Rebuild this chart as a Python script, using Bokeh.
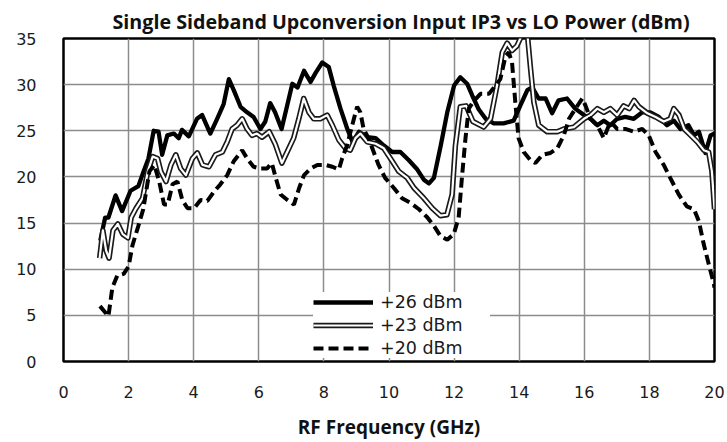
from bokeh.plotting import figure
from bokeh.models import Legend, LegendItem, ColumnDataSource
from bokeh.embed import file_html
from bokeh.resources import INLINE

# ---- data ----
freq_26 = [1.13, 1.28, 1.38, 1.6, 1.8, 2.06, 2.3, 2.46, 2.61, 2.77, 2.92, 3.03, 3.19, 3.39, 3.54, 3.64,
           3.85, 4.1, 4.26, 4.51, 4.72, 4.92, 5.08, 5.23, 5.44, 5.64, 5.84, 6.05, 6.2, 6.35, 6.5, 6.7,
           6.87, 7.03, 7.19, 7.39, 7.59, 7.75, 7.95, 8.15, 8.3, 8.51, 8.72, 8.88, 9.08, 9.33, 9.59, 9.84,
           10.1, 10.35, 10.61, 10.87, 11.07, 11.23, 11.38, 11.59, 11.79, 12.0, 12.19, 12.4, 12.56, 12.76,
           12.97, 13.22, 13.52, 13.83, 14.03, 14.25, 14.4, 14.6, 14.81, 15.01, 15.21, 15.47, 15.72, 15.99,
           16.19, 16.4, 16.6, 16.8, 17.01, 17.26, 17.52, 17.78, 18.03, 18.29, 18.54, 18.75, 18.95, 19.2,
           19.37, 19.52, 19.72, 19.88, 20.0]
ip3_26 = [13.1, 15.6, 15.6, 18.0, 16.3, 18.5, 19.0, 20.6, 22.0, 25.0, 24.9, 22.4, 24.5, 24.7, 24.2, 25.1,
          24.4, 26.3, 26.7, 24.7, 26.3, 27.9, 30.6, 29.4, 27.6, 27.0, 26.5, 25.2, 26.0, 28.0, 27.0, 25.2,
          27.7, 30.1, 29.7, 31.5, 30.3, 31.3, 32.4, 31.9, 29.9, 27.4, 25.2, 23.8, 24.9, 24.3, 24.2, 23.4,
          22.7, 22.7, 21.8, 20.8, 19.7, 19.3, 19.9, 23.4, 27.0, 29.9, 30.8, 30.1, 28.8, 27.3,
          26.3, 25.8, 25.8, 26.1, 27.7, 29.4, 29.7, 28.5, 28.5, 26.9, 28.3, 28.5, 27.4, 26.7,
          26.3, 25.6, 26.1, 25.6, 26.3, 26.5, 26.3, 27.0, 27.0, 26.5, 25.6, 26.1, 25.2, 25.6,
          24.5, 24.9, 22.6, 24.5, 24.7]

freq_23 = [1.11, 1.21, 1.31, 1.4, 1.52, 1.67, 1.82, 1.98, 2.08, 2.23, 2.43, 2.59, 2.74, 2.89, 2.99, 3.15,
           3.3, 3.45, 3.6, 3.76, 3.96, 4.11, 4.27, 4.47, 4.67, 4.88, 5.03, 5.18, 5.33, 5.49, 5.64, 5.79,
           5.94, 6.1, 6.32, 6.5, 6.71, 6.87, 7.07, 7.23, 7.38, 7.54, 7.69, 7.89, 8.1, 8.26, 8.46, 8.66,
           8.81, 8.97, 9.12, 9.33, 9.59, 9.84, 10.1, 10.3, 10.56, 10.77, 11.07, 11.33, 11.58, 11.78,
           11.94, 12.04, 12.19, 12.37, 12.58, 12.91, 13.12, 13.32, 13.48, 13.63, 13.78, 13.93, 14.1,
           14.25, 14.35, 14.45, 14.6, 14.86, 15.17, 15.37, 15.68, 15.99, 16.19, 16.4, 16.6, 16.8, 17.01,
           17.21, 17.38, 17.53, 17.68, 17.94, 18.19, 18.44, 18.64, 18.75, 18.91, 19.07, 19.27, 19.47,
           19.67, 19.82, 19.92, 20.0]
ip3_23 = [11.2, 14.2, 12.0, 11.2, 14.2, 14.9, 13.8, 13.4, 15.6, 16.6, 17.7, 20.6, 22.2, 22.0, 20.6, 19.5,
          21.3, 22.4, 20.9, 20.2, 22.0, 22.6, 21.3, 21.1, 22.4, 22.7, 23.8, 25.2, 25.6, 26.3, 25.2, 24.5,
          24.7, 24.3, 24.9, 23.6, 21.5, 22.7, 24.2, 26.3, 28.5, 27.0, 26.3, 26.3, 26.7, 25.6, 24.0, 23.1,
          22.9, 24.2, 24.7, 23.8, 23.6, 23.1, 21.7, 20.6, 19.9, 18.8, 17.7, 16.6, 15.8, 15.9,
          18.1, 23.4, 27.6, 27.7, 26.0, 25.4, 26.3, 29.9, 33.5, 34.5, 33.7, 34.2, 35.5,
          35.5, 31.7, 28.1, 25.6, 24.9, 24.9, 25.2, 25.4, 26.3, 26.7, 27.4, 27.0, 27.4, 26.7,
          27.7, 27.4, 28.3, 27.6, 26.9, 26.5, 26.0, 26.3, 27.4, 26.7, 25.2, 24.5, 23.8,
          22.9, 22.7, 20.6, 16.5]

freq_20 = [1.12, 1.38, 1.5, 1.65, 1.85, 2.0, 2.12, 2.3, 2.45, 2.64, 2.79, 2.94, 3.09, 3.2, 3.35, 3.5,
           3.65, 3.81, 4.01, 4.21, 4.42, 4.62, 4.82, 5.03, 5.23, 5.49, 5.64, 5.84, 6.05, 6.25, 6.4, 6.52,
           6.67, 6.88, 7.08, 7.24, 7.39, 7.59, 7.8, 8.05, 8.26, 8.46, 8.56, 8.71, 8.87, 9.02, 9.12, 9.22,
           9.37, 9.53, 9.68, 9.88, 10.15, 10.4, 10.66, 10.92, 11.18, 11.38, 11.58, 11.79, 11.99, 12.14,
           12.24, 12.35, 12.45, 12.6, 12.81, 13.07, 13.27, 13.42, 13.58, 13.68, 13.78, 13.88, 13.98,
           14.14, 14.35, 14.5, 14.71, 14.96, 15.17, 15.37, 15.53, 15.73, 15.94, 16.04, 16.19, 16.4, 16.6,
           16.8, 17.01, 17.26, 17.53, 17.78, 17.98, 18.19, 18.44, 18.64, 18.9, 19.15, 19.37, 19.52,
           19.67, 19.82, 19.98, 20.0]
ip3_20 = [6.0, 4.9, 8.0, 9.3, 9.5, 10.3, 12.6, 14.7, 16.5, 20.6, 21.3, 19.5, 17.0, 17.0, 19.2, 19.5,
          17.5, 16.6, 16.6, 17.5, 17.4, 18.4, 19.2, 20.2, 21.7, 22.9, 22.0, 21.1, 20.9, 20.9, 21.5, 19.9,
          18.1, 17.5, 17.0, 18.8, 20.2, 20.9, 21.3, 21.3, 21.1, 20.8, 22.0, 23.4, 25.6, 27.6, 27.0, 25.2,
          24.2, 22.7, 21.3, 19.9, 18.8, 17.7, 17.2, 16.5, 15.6, 14.7, 13.6, 13.2, 13.8, 15.6,
          19.9, 24.2, 27.4, 28.2, 29.0, 29.0, 29.9, 30.6, 33.1, 33.5, 32.4, 28.1, 24.2,
          22.7, 21.8, 21.5, 22.4, 22.6, 23.1, 24.5, 26.3, 27.4, 28.5, 27.7, 26.3, 25.6, 24.2,
          26.0, 25.2, 25.2, 24.9, 25.2, 24.5, 22.7, 21.3, 19.9, 18.1, 16.8, 16.5, 15.2,
          12.7, 10.6, 8.4, 8.0]

series_labels = ["+26 dBm", "+23 dBm", "+20 dBm"]
x_ticks = [0, 2, 4, 6, 8, 10, 12, 14, 16, 18, 20]
y_ticks = [0, 5, 10, 15, 20, 25, 30, 35]

title_text = "Single Sideband Upconversion Input IP3 vs LO Power (dBm)"
x_label = "RF Frequency (GHz)"

# ---- figure ----
p = figure(width=727, height=442, x_range=(0, 20), y_range=(0, 35),
           output_backend="svg", toolbar_location=None,
           min_border_left=63, min_border_right=13, min_border_top=38, min_border_bottom=78)

p.title.text = title_text
p.title.text_font = "Open Sans"
p.title.text_font_style = "bold"
p.title.text_font_size = "19.7px"
p.title.text_color = "#111111"
p.title.align = "left"
p.title.offset = 49
p.title.standoff = 8

p.outline_line_color = "black"
p.outline_line_width = 2.5
p.background_fill_color = "white"
p.border_fill_color = "white"

for ax in (p.xaxis[0], p.yaxis[0]):
    ax.axis_line_color = None
    ax.major_tick_line_color = None
    ax.minor_tick_line_color = None
    ax.major_label_text_font = "DejaVu Sans"
    ax.major_label_text_font_size = "16px"
    ax.major_label_text_color = "#1a1a1a"

p.xaxis.ticker = x_ticks
p.yaxis.ticker = y_ticks
p.xaxis.major_label_standoff = 18
p.yaxis.major_label_standoff = 21
p.xaxis.axis_label = x_label
p.xaxis.axis_label_text_font = "Open Sans"
p.xaxis.axis_label_text_font_style = "bold"
p.xaxis.axis_label_text_font_size = "19px"
p.xaxis.axis_label_text_color = "#111111"
p.xaxis.axis_label_standoff = 13

p.grid.grid_line_color = "#8c8c8c"
p.grid.grid_line_width = 1.5
p.xgrid.ticker = x_ticks
p.ygrid.ticker = y_ticks

src26 = ColumnDataSource(dict(x=freq_26, y=ip3_26))
src23 = ColumnDataSource(dict(x=freq_23, y=ip3_23))
src20 = ColumnDataSource(dict(x=freq_20, y=ip3_20))

r26 = p.line("x", "y", source=src26, line_color="black", line_width=4.3, line_join="round")
r23a = p.line("x", "y", source=src23, line_color="#1a1a1a", line_width=5.5, line_join="round")
r23b = p.line("x", "y", source=src23, line_color="white", line_width=2.2, line_join="round")
r20 = p.line("x", "y", source=src20, line_color="black", line_width=4, line_dash="10 5")

legend = Legend(items=[
    LegendItem(label=series_labels[0], renderers=[r26]),
    LegendItem(label=series_labels[1], renderers=[r23a, r23b]),
    LegendItem(label=series_labels[2], renderers=[r20]),
], location=(250, 3))
legend.glyph_width = 60
legend.glyph_height = 20
legend.label_height = 20
legend.label_width = 110
legend.label_standoff = 7
legend.spacing = 3
legend.padding = 5
legend.margin = 0
legend.border_line_color = None
legend.background_fill_color = "white"
legend.background_fill_alpha = 1.0
legend.label_text_font = "DejaVu Sans"
legend.label_text_font_size = "17.5px"
legend.label_text_color = "#1a1a1a"
p.add_layout(legend, "center")

open("out.html", "w").write(file_html(p, INLINE))
